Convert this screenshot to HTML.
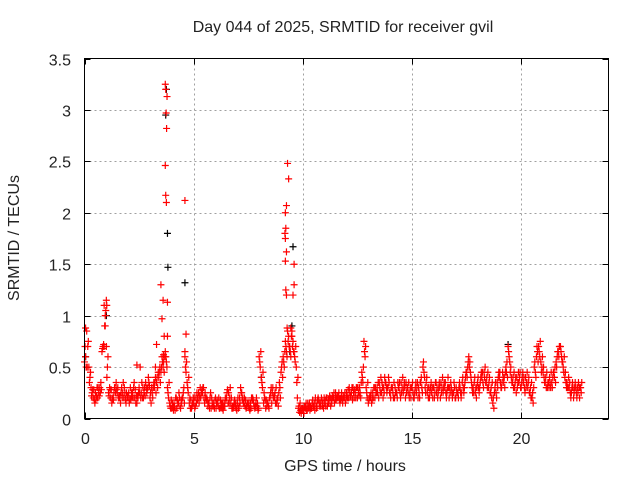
<!DOCTYPE html>
<html><head><meta charset="utf-8"><style>
body{margin:0;background:#fff;}
svg text{font-family:"Liberation Sans",sans-serif;font-size:16px;fill:#222;}
</style></head><body>
<svg id="chart" width="640" height="480" xmlns="http://www.w3.org/2000/svg">
<rect width="640" height="480" fill="#fff"/>
<text x="343" y="32" text-anchor="middle">Day 044 of 2025, SRMTID for receiver gvil</text>
<text x="345" y="471" text-anchor="middle">GPS time / hours</text>
<text transform="translate(19,238) rotate(-90)" text-anchor="middle">SRMTID / TECUs</text>
<g id="grid"></g>
<g id="axes"></g>
<g id="marks"></g>
<rect x="84.5" y="58.5" width="524" height="360" fill="none" stroke="#000" stroke-width="1"/>
</svg>
<script>
const xTicks=[0,5,10,15,20];
const yTicks=[0,0.5,1,1.5,2,2.5,3,3.5];
const yTickLabels=["0","0.5","1","1.5","2","2.5","3","3.5"];
const seriesStart=0, seriesStep=0.1;
const valuesA=[0.55,0.85,0.5,0.3,0.2,0.25,0.2,0.3,0.65,1.1,
0.7,0.25,0.2,0.2,0.3,0.25,0.2,0.3,0.2,0.15,
0.2,0.3,0.25,0.2,0.15,0.3,0.25,0.2,0.35,0.3,
0.2,0.25,0.3,0.35,0.4,0.45,0.5,0.65,0.3,0.15,
0.1,0.15,0.2,0.15,0.1,0.2,0.6,0.35,0.15,0.1,
0.15,0.2,0.2,0.3,0.25,0.15,0.2,0.15,0.1,0.15,
0.2,0.15,0.1,0.1,0.15,0.2,0.25,0.15,0.1,0.12,
0.15,0.2,0.25,0.15,0.1,0.12,0.15,0.2,0.1,0.12,
0.6,0.4,0.15,0.1,0.15,0.2,0.25,0.2,0.15,0.25,
0.45,0.6,0.75,0.85,0.7,0.8,0.65,0.5,0.1,0.08,
0.1,0.12,0.08,0.15,0.1,0.12,0.15,0.2,0.15,0.12,
0.15,0.2,0.15,0.18,0.2,0.25,0.2,0.15,0.18,0.2,
0.25,0.2,0.22,0.3,0.25,0.2,0.3,0.45,0.75,0.3,
0.15,0.2,0.25,0.2,0.3,0.35,0.25,0.3,0.35,0.3,
0.25,0.3,0.2,0.25,0.3,0.35,0.25,0.2,0.3,0.25,
0.3,0.2,0.25,0.3,0.35,0.5,0.3,0.25,0.2,0.25,
0.3,0.35,0.25,0.2,0.4,0.3,0.25,0.2,0.3,0.25,
0.2,0.25,0.3,0.35,0.3,0.45,0.6,0.4,0.3,0.25,
0.35,0.3,0.4,0.45,0.35,0.3,0.25,0.15,0.3,0.35,
0.4,0.3,0.35,0.5,0.7,0.45,0.35,0.3,0.4,0.35,
0.3,0.35,0.4,0.3,0.25,0.2,0.5,0.6,0.7,0.55,
0.45,0.35,0.3,0.4,0.35,0.45,0.55,0.65,0.7,0.55,
0.4,0.35,0.3,0.25,0.2,0.3,0.25,0.3];
const valuesB=[0.6,0.7,0.4,0.25,0.18,0.22,0.25,0.35,0.7,1.0,
0.5,0.3,0.15,0.25,0.35,0.2,0.15,0.25,0.25,0.2,
0.15,0.25,0.3,0.15,0.2,0.5,0.2,0.3,0.25,0.35,
0.15,0.3,0.4,0.3,0.5,0.6,0.45,0.55,0.2,0.1,
0.12,0.08,0.18,0.2,0.15,0.3,0.45,0.25,0.1,0.15,
0.1,0.25,0.15,0.25,0.3,0.2,0.12,0.2,0.15,0.1,
0.15,0.2,0.12,0.08,0.2,0.28,0.2,0.1,0.15,0.1,
0.1,0.3,0.2,0.12,0.15,0.1,0.2,0.15,0.15,0.08,
0.5,0.3,0.2,0.12,0.1,0.3,0.2,0.15,0.2,0.3,
0.55,0.5,0.65,0.8,0.6,0.75,0.55,0.2,0.06,0.1,
0.05,0.15,0.1,0.12,0.18,0.08,0.12,0.15,0.2,0.1,
0.12,0.15,0.2,0.22,0.15,0.2,0.25,0.2,0.22,0.15,
0.2,0.25,0.3,0.2,0.3,0.25,0.2,0.35,0.6,0.2,
0.2,0.15,0.3,0.25,0.35,0.25,0.3,0.4,0.25,0.35,
0.3,0.2,0.25,0.35,0.25,0.3,0.35,0.25,0.35,0.2,
0.25,0.3,0.35,0.2,0.3,0.45,0.35,0.2,0.3,0.2,
0.25,0.3,0.35,0.25,0.3,0.25,0.4,0.25,0.2,0.3,
0.25,0.3,0.2,0.3,0.4,0.5,0.55,0.3,0.35,0.2,
0.3,0.4,0.35,0.5,0.3,0.4,0.2,0.1,0.25,0.4,
0.35,0.45,0.3,0.55,0.6,0.4,0.3,0.4,0.35,0.45,
0.4,0.3,0.35,0.4,0.2,0.15,0.45,0.65,0.6,0.5,
0.4,0.3,0.35,0.3,0.4,0.5,0.6,0.7,0.6,0.45,
0.35,0.3,0.25,0.35,0.3,0.2,0.3,0.25];
const valuesC=[0.7,0.5,0.35,0.22,0.28,0.18,0.3,0.25,0.68,0.9,
0.4,0.22,0.28,0.18,0.25,0.3,0.22,0.2,0.3,0.25,
0.25,0.18,0.2,0.28,0.22,0.25,0.35,0.25,0.3,0.4,
0.25,0.2,0.35,0.4,0.45,0.5,0.55,0.6,0.25,0.12,
0.15,0.12,0.1,0.25,0.18,0.25,0.5,0.3,0.2,0.12,
0.2,0.15,0.25,0.2,0.3,0.25,0.18,0.1,0.2,0.12,
0.1,0.12,0.18,0.15,0.12,0.25,0.15,0.2,0.12,0.15,
0.2,0.15,0.18,0.2,0.12,0.15,0.1,0.18,0.12,0.15,
0.55,0.35,0.25,0.18,0.12,0.25,0.3,0.25,0.18,0.35,
0.5,0.55,0.7,0.75,0.65,0.7,0.6,0.35,0.12,0.05,
0.08,0.1,0.15,0.08,0.15,0.15,0.1,0.18,0.12,0.15,
0.18,0.12,0.22,0.15,0.25,0.18,0.22,0.18,0.15,0.25,
0.22,0.3,0.25,0.25,0.2,0.3,0.25,0.4,0.65,0.25,
0.18,0.25,0.2,0.3,0.25,0.3,0.35,0.25,0.3,0.4,
0.2,0.25,0.3,0.2,0.35,0.25,0.3,0.35,0.25,0.3,
0.35,0.25,0.3,0.25,0.4,0.55,0.25,0.3,0.25,0.3,
0.2,0.25,0.3,0.35,0.25,0.35,0.3,0.3,0.25,0.35,
0.3,0.2,0.25,0.4,0.35,0.4,0.5,0.35,0.25,0.3,
0.4,0.35,0.45,0.4,0.4,0.35,0.3,0.2,0.35,0.3,
0.45,0.35,0.4,0.45,0.65,0.5,0.4,0.35,0.3,0.4,
0.35,0.4,0.3,0.35,0.3,0.25,0.55,0.7,0.65,0.45,
0.5,0.4,0.35,0.35,0.3,0.4,0.5,0.6,0.65,0.5,
0.45,0.3,0.35,0.3,0.25,0.25,0.35,0.3];
const valuesD=[0.5,0.75,0.45,0.28,0.15,0.3,0.22,0.28,0.72,1.05,
0.6,0.28,0.18,0.3,0.28,0.22,0.25,0.35,0.18,0.22,
0.18,0.22,0.35,0.22,0.25,0.2,0.3,0.22,0.28,0.32,
0.3,0.35,0.25,0.45,0.35,0.55,0.6,0.5,0.35,0.18,
0.08,0.2,0.15,0.12,0.2,0.15,0.55,0.4,0.18,0.2,
0.12,0.18,0.22,0.28,0.2,0.18,0.15,0.25,0.12,0.18,
0.18,0.1,0.15,0.12,0.18,0.15,0.3,0.12,0.18,0.08,
0.12,0.25,0.15,0.18,0.15,0.08,0.18,0.12,0.2,0.1,
0.65,0.45,0.18,0.15,0.2,0.15,0.22,0.3,0.12,0.2,
0.4,0.65,0.6,0.7,0.8,0.65,0.7,0.4,0.15,0.1,
0.12,0.08,0.12,0.1,0.12,0.2,0.18,0.12,0.18,0.2,
0.2,0.18,0.12,0.2,0.18,0.22,0.18,0.25,0.2,0.18,
0.28,0.22,0.18,0.28,0.3,0.22,0.35,0.5,0.7,0.35,
0.22,0.18,0.3,0.25,0.2,0.4,0.2,0.35,0.3,0.25,
0.3,0.35,0.25,0.3,0.2,0.4,0.3,0.3,0.2,0.3,
0.2,0.35,0.2,0.35,0.25,0.4,0.4,0.3,0.35,0.3,
0.35,0.2,0.3,0.3,0.35,0.2,0.3,0.35,0.25,0.2,
0.25,0.35,0.25,0.25,0.45,0.55,0.45,0.25,0.4,0.3,
0.25,0.45,0.3,0.35,0.45,0.25,0.35,0.25,0.2,0.45,
0.3,0.4,0.45,0.4,0.55,0.35,0.45,0.25,0.45,0.3,
0.45,0.25,0.45,0.25,0.35,0.3,0.4,0.55,0.75,0.6,
0.35,0.45,0.3,0.45,0.45,0.35,0.65,0.7,0.55,0.6,
0.3,0.4,0.2,0.3,0.35,0.3,0.2,0.35];
const spikeTimes=[3.5,3.55,3.6,3.65,3.7,3.72,3.74,3.76,3.78,3.7,3.72,3.75,3.3,3.62,3.8,3.8,3.25,4.6,4.65,4.6,2.4,9.3,9.35,9.25,9.2,9.22,9.18,9.2,9.25,9.2,9.22,9.25,9.28,9.6,9.6,9.55,9.45,9.5,0.05,1.0,1.02,0.95,0.9];
const spikeValues=[1.3,0.97,1.15,0.8,3.25,3.2,2.97,2.82,3.13,2.46,2.17,2.1,0.72,0.62,1.13,0.8,0.5,2.12,0.82,0.65,0.52,2.48,2.33,2.07,2.0,1.85,1.8,1.75,1.62,1.53,1.25,1.2,0.88,1.5,1.3,1.2,0.88,0.85,0.88,1.15,1.1,0.9,0.7];
const blackTimes=[3.75,3.72,3.8,3.82,4.6,9.55,9.4,1.0,19.4,8.1,0.05,9.5];
const blackValues=[3.2,2.95,1.8,1.47,1.32,1.67,0.65,1.0,0.72,0.4,0.6,0.9];

const X0=84.5,X1=608.5,Y0=418.5,Y1=58.5,XMAX=24,YMAX=3.5;
const xs=t=>X0+(X1-X0)*t/XMAX;
const ys=v=>Y0-(Y0-Y1)*v/YMAX;
const NS="http://www.w3.org/2000/svg";
const grid=document.getElementById('grid'),axes=document.getElementById('axes'),marks=document.getElementById('marks');
function ln(p,x1,y1,x2,y2,st,dash){const l=document.createElementNS(NS,'line');l.setAttribute('x1',x1);l.setAttribute('y1',y1);l.setAttribute('x2',x2);l.setAttribute('y2',y2);l.setAttribute('stroke',st);if(dash)l.setAttribute('stroke-dasharray',dash);p.appendChild(l);return l;}
xTicks.forEach(t=>{const x=Math.round(xs(t))+0.5;
 if(t>0){const g=ln(grid,x,Y1,x,Y0,'#a0a0a0','2,3');
 
 }
 ln(axes,x,Y0,x,Y0-6,'#000');ln(axes,x,Y1,x,Y1+6,'#000');
 const tx=document.createElementNS(NS,'text');tx.setAttribute('x',x);tx.setAttribute('y',444);tx.setAttribute('text-anchor','middle');tx.textContent=t;
 
 
 axes.appendChild(tx);});
yTicks.forEach((v,i)=>{const y=Math.round(ys(v))+0.5;
 if(v>0&&v<YMAX){const g=ln(grid,X0,y,X1,y,'#a0a0a0','2,3');
 
 }
 ln(axes,X0,y,X0+6,y,'#000');ln(axes,X1,y,X1-6,y,'#000');
 const tx=document.createElementNS(NS,'text');tx.setAttribute('x',71);tx.setAttribute('y',y+6);tx.setAttribute('text-anchor','end');tx.textContent=yTickLabels[i];
 
 
 axes.appendChild(tx);});
function plus(t,v,col,name){const x=xs(t),y=ys(v);const p=document.createElementNS(NS,'path');
 p.setAttribute('d',`M${x-3.5} ${y}H${x+3.5}M${x} ${y-3.5}V${y+3.5}`);p.setAttribute('stroke',col);p.setAttribute('stroke-width','1.2');p.setAttribute('fill','none');
 
 
 marks.appendChild(p);}
blackTimes.forEach((t,i)=>plus(t,blackValues[i],'#000','black-point'));
valuesA.forEach((v,i)=>plus(seriesStart+i*seriesStep,v,'#ff0000','red-point'));
valuesB.forEach((v,i)=>plus(seriesStart+i*seriesStep+0.05,v,'#ff0000','red-point'));
valuesC.forEach((v,i)=>plus(seriesStart+i*seriesStep+0.025,v,'#ff0000','red-point'));
valuesD.forEach((v,i)=>plus(seriesStart+i*seriesStep+0.075,v,'#ff0000','red-point'));
spikeTimes.forEach((t,i)=>plus(t,spikeValues[i],'#ff0000','red-spike-point'));
</script>
</body></html>
